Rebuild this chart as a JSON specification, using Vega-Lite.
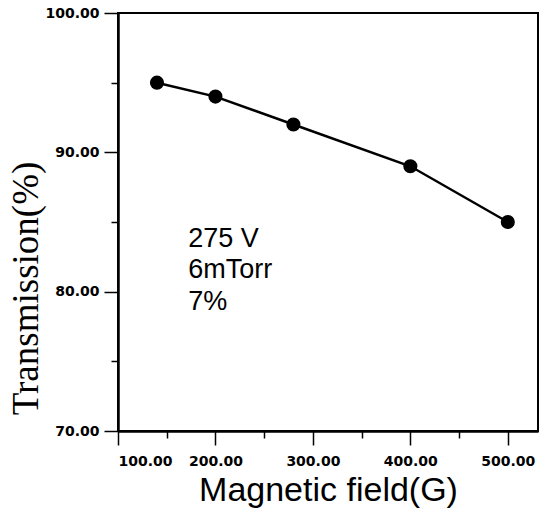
{
  "$schema": "https://vega.github.io/schema/vega-lite/v6.json",
  "autosize": {"type": "none"},
  "padding": {"left": 118, "top": 13, "right": 9, "bottom": 80},
  "width": 420,
  "height": 418,
  "background": "white",
  "config": {
    "view": {"stroke": "black", "strokeWidth": 2},
    "axis": {
      "grid": false,
      "domainColor": "black",
      "domainWidth": 2,
      "tickColor": "black",
      "tickWidth": 1.5,
      "labelColor": "black",
      "labelFont": "DejaVu Sans",
      "labelFontSize": 14,
      "labelFontWeight": "bold",
      "titleColor": "black"
    }
  },
  "datasets": {
    "pts": [
      {"B": 140, "T": 95},
      {"B": 200, "T": 94},
      {"B": 280, "T": 92},
      {"B": 400, "T": 89},
      {"B": 500, "T": 85}
    ],
    "notes": [
      {"B": 172, "T": 83.2, "label": "275 V"},
      {"B": 172, "T": 80.95, "label": "6mTorr"},
      {"B": 172, "T": 78.7, "label": "7%"}
    ]
  },
  "resolve": {"axis": {"x": "independent", "y": "independent"}},
  "layer": [
    {
      "data": {"name": "pts"},
      "mark": {"type": "line", "color": "black", "strokeWidth": 2.5},
      "encoding": {
        "x": {
          "field": "B", "type": "quantitative",
          "scale": {"domain": [100, 531], "nice": false, "zero": false},
          "axis": {
            "orient": "bottom",
            "values": [100, 200, 300, 400, 500],
            "format": ".2f",
            "tickSize": 14,
            "labelPadding": 9,
            "title": "Magnetic field(G)",
            "titleFont": "Liberation Sans",
            "titleFontSize": 34,
            "titleFontWeight": "normal",
            "titleBaseline": "alphabetic",
            "titleY": 69
          }
        },
        "y": {
          "field": "T", "type": "quantitative",
          "scale": {"domain": [70, 100], "nice": false, "zero": false},
          "axis": {
            "orient": "left",
            "values": [70, 80, 90, 100],
            "format": ".2f",
            "tickSize": 14,
            "labelPadding": 5,
            "title": "Transmission(%)",
            "titleFont": "Liberation Serif",
            "titleFontSize": 37,
            "titleFontWeight": "normal",
            "titleAngle": -90,
            "titleAlign": "center",
            "titleBaseline": "alphabetic",
            "titleX": -81,
            "titleY": 275
          }
        }
      }
    },
    {
      "data": {"name": "pts"},
      "mark": {"type": "point", "filled": true, "color": "black", "opacity": 1, "size": 200},
      "encoding": {
        "x": {
          "field": "B", "type": "quantitative",
          "scale": {"domain": [100, 531], "nice": false, "zero": false},
          "axis": {"orient": "bottom", "values": [150, 250, 350, 450], "labels": false, "tickSize": 7, "title": null}
        },
        "y": {
          "field": "T", "type": "quantitative",
          "scale": {"domain": [70, 100], "nice": false, "zero": false},
          "axis": {"orient": "left", "values": [75, 85, 95], "labels": false, "tickSize": 7, "title": null}
        }
      }
    },
    {
      "data": {"name": "notes"},
      "mark": {"type": "text", "align": "left", "baseline": "alphabetic", "font": "Liberation Sans", "fontSize": 27, "color": "black"},
      "encoding": {
        "x": {"field": "B", "type": "quantitative", "scale": {"domain": [100, 531], "nice": false, "zero": false}, "axis": null},
        "y": {"field": "T", "type": "quantitative", "scale": {"domain": [70, 100], "nice": false, "zero": false}, "axis": null},
        "text": {"field": "label"}
      }
    }
  ]
}
